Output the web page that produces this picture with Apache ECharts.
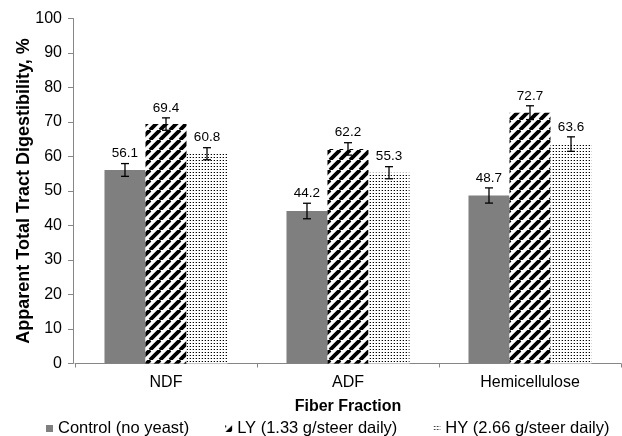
<!DOCTYPE html>
<html>
<head>
<meta charset="utf-8">
<script src="https://cdn.jsdelivr.net/npm/echarts@6/dist/echarts.min.js"></script>
<style>html,body{margin:0;padding:0;background:#fff}#c{width:622px;height:436px}</style>
</head>
<body>
<div id="c"></div>
<script>
const categories = ['NDF', 'ADF', 'Hemicellulose'];
const seriesNames = ['Control (no yeast)', 'LY (1.33 g/steer daily)', 'HY (2.66 g/steer daily)'];
const controlValues = [56.1, 44.2, 48.7];
const lyValues = [69.4, 62.2, 72.7];
const hyValues = [60.8, 55.3, 63.6];
const controlErr = [1.85, 2.25, 2.2];
const lyErr = [1.8, 1.8, 2.0];
const hyErr = [1.75, 1.75, 2.1];
const yTicks = [0, 10, 20, 30, 40, 50, 60, 70, 80, 90, 100];

const FONT = 'Liberation Sans, Arial, sans-serif';
const CAT_GAP = 0.324;

function stripePattern() {
  const P = 10, c = document.createElement('canvas');
  c.width = P; c.height = P;
  const g = c.getContext('2d');
  g.fillStyle = '#fff'; g.fillRect(0, 0, P, P);
  g.strokeStyle = '#000'; g.lineWidth = 3.8;
  for (let k = -1; k <= 1; k++) {
    g.beginPath(); g.moveTo(k * P, P); g.lineTo(k * P + P, 0); g.stroke();
  }
  return c;
}
function dotPattern() {
  const c = document.createElement('canvas');
  c.width = 3; c.height = 3;
  const g = c.getContext('2d');
  g.fillStyle = '#fff'; g.fillRect(0, 0, 3, 3);
  g.fillStyle = '#000'; g.fillRect(1, 1, 1, 1);
  g.fillStyle = 'rgba(0,0,0,0.3)'; g.fillRect(0, 1, 1, 1);
  return c;
}

const values = [controlValues, lyValues, hyValues];
const errs = [controlErr, lyErr, hyErr];
const fills = ['#7f7f7f', { image: stripePattern(), repeat: 'repeat' }, { image: dotPattern(), repeat: 'repeat' }];

const barSeries = values.map((v, i) => ({
  name: seriesNames[i],
  type: 'bar',
  data: v,
  barGap: '0%',
  barCategoryGap: (CAT_GAP * 100) + '%',
  itemStyle: { color: fills[i] },
  emphasis: { disabled: true }
}));

const errSeries = values.map((v, si) => ({
  type: 'custom',
  name: 'err' + si,
  data: v.map((val, ci) => [ci, val, errs[si][ci]]),
  z: 10,
  silent: true,
  renderItem: function (params, api) {
    const ci = api.value(0), val = api.value(1), e = api.value(2);
    const catW = api.size([1, 0])[0];
    const bw = catW * (1 - CAT_GAP) / 3;
    const center = api.coord([ci, val]);
    const x = center[0] + (si - 1) * bw;
    const yTop = api.coord([ci, val + e])[1];
    const yBot = api.coord([ci, val - e])[1];
    const cap = 4;
    const st = { stroke: '#000', lineWidth: 1.3 };
    return {
      type: 'group',
      children: [
        { type: 'line', shape: { x1: x, y1: yTop, x2: x, y2: yBot }, style: st },
        { type: 'line', shape: { x1: x - cap, y1: yTop, x2: x + cap, y2: yTop }, style: st },
        { type: 'line', shape: { x1: x - cap, y1: yBot, x2: x + cap, y2: yBot }, style: st },
        { type: 'text', style: { text: val.toFixed(1), x: x, y: yTop - 3, align: 'center', verticalAlign: 'bottom', font: '13.5px ' + FONT, fill: '#000' } }
      ]
    };
  }
}));

const chart = echarts.init(document.getElementById('c'), null, { renderer: 'canvas' });
chart.setOption({
  animation: false,
  backgroundColor: '#fff',
  textStyle: { fontFamily: FONT },
  grid: { left: 75, right: 1, top: 18.5, bottom: 72.5, containLabel: false },
  legend: {
    data: seriesNames,
    left: 41,
    top: 415,
    itemWidth: 7,
    itemHeight: 7,
    itemGap: 36,
    icon: 'rect',
    textStyle: { fontSize: 16.5, color: '#000', fontFamily: FONT }
  },
  xAxis: {
    type: 'category',
    data: categories,
    name: 'Fiber Fraction',
    nameLocation: 'middle',
    nameMoveOverlap: false,
    nameGap: 35,
    nameTextStyle: { fontSize: 16, fontWeight: 'bold', color: '#000', fontFamily: FONT },
    axisLine: { lineStyle: { color: '#868686', width: 1 } },
    axisTick: { show: true, length: 4, lineStyle: { color: '#868686' } },
    axisLabel: { fontSize: 16, color: '#000', margin: 11, fontFamily: FONT }
  },
  yAxis: {
    type: 'value',
    min: yTicks[0],
    max: yTicks[yTicks.length - 1],
    interval: 10,
    offset: 2,
    name: 'Apparent Total Tract Digestibility, %',
    nameLocation: 'middle',
    nameMoveOverlap: false,
    nameRotate: 90,
    nameGap: 40,
    nameTextStyle: { fontSize: 18, fontWeight: 'bold', color: '#000', fontFamily: FONT },
    axisLine: { show: true, lineStyle: { color: '#868686', width: 1 } },
    axisTick: { show: true, length: 5, lineStyle: { color: '#868686' } },
    splitLine: { show: false },
    axisLabel: { fontSize: 16, color: '#000', margin: 11, fontFamily: FONT }
  },
  series: [...barSeries, ...errSeries]
});
</script>
</body>
</html>
